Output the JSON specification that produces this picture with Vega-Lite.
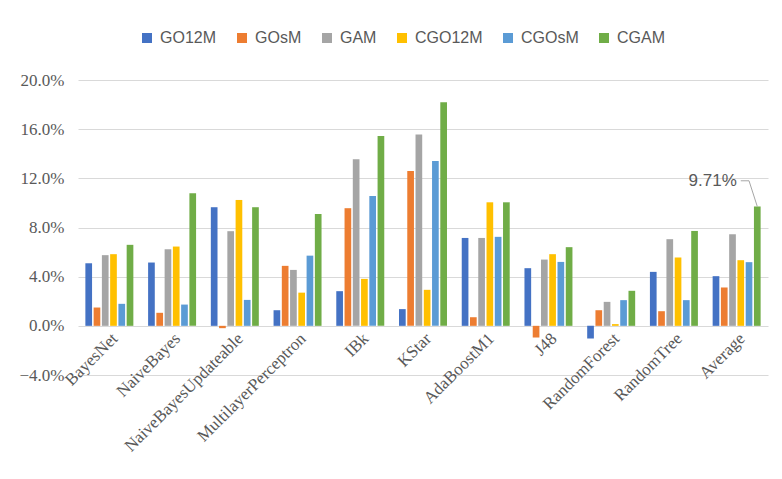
{
  "$schema": "https://vega.github.io/schema/vega-lite/v6.json",
  "width": 690,
  "height": 295,
  "autosize": {"type": "none"},
  "padding": {"left": 78, "top": 80, "right": 14, "bottom": 104},
  "background": "white",
  "config": {"view": {"stroke": null}, "font": "Liberation Serif"},
  "layer": [
    {
      "data": {"values": [
        {"cat": "BayesNet", "series": "GO12M", "v": 0.0509},
        {"cat": "BayesNet", "series": "GOsM", "v": 0.0149},
        {"cat": "BayesNet", "series": "GAM", "v": 0.0575},
        {"cat": "BayesNet", "series": "CGO12M", "v": 0.0583},
        {"cat": "BayesNet", "series": "CGOsM", "v": 0.0179},
        {"cat": "BayesNet", "series": "CGAM", "v": 0.0659},
        {"cat": "NaiveBayes", "series": "GO12M", "v": 0.0515},
        {"cat": "NaiveBayes", "series": "GOsM", "v": 0.0106},
        {"cat": "NaiveBayes", "series": "GAM", "v": 0.0623},
        {"cat": "NaiveBayes", "series": "CGO12M", "v": 0.0645},
        {"cat": "NaiveBayes", "series": "CGOsM", "v": 0.0173},
        {"cat": "NaiveBayes", "series": "CGAM", "v": 0.1079},
        {"cat": "NaiveBayesUpdateable", "series": "GO12M", "v": 0.0965},
        {"cat": "NaiveBayesUpdateable", "series": "GOsM", "v": -0.0019},
        {"cat": "NaiveBayesUpdateable", "series": "GAM", "v": 0.0770},
        {"cat": "NaiveBayesUpdateable", "series": "CGO12M", "v": 0.1024},
        {"cat": "NaiveBayesUpdateable", "series": "CGOsM", "v": 0.0211},
        {"cat": "NaiveBayesUpdateable", "series": "CGAM", "v": 0.0965},
        {"cat": "MultilayerPerceptron", "series": "GO12M", "v": 0.0127},
        {"cat": "MultilayerPerceptron", "series": "GOsM", "v": 0.0488},
        {"cat": "MultilayerPerceptron", "series": "GAM", "v": 0.0455},
        {"cat": "MultilayerPerceptron", "series": "CGO12M", "v": 0.0270},
        {"cat": "MultilayerPerceptron", "series": "CGOsM", "v": 0.0571},
        {"cat": "MultilayerPerceptron", "series": "CGAM", "v": 0.0910},
        {"cat": "IBk", "series": "GO12M", "v": 0.0282},
        {"cat": "IBk", "series": "GOsM", "v": 0.0957},
        {"cat": "IBk", "series": "GAM", "v": 0.1355},
        {"cat": "IBk", "series": "CGO12M", "v": 0.0382},
        {"cat": "IBk", "series": "CGOsM", "v": 0.1057},
        {"cat": "IBk", "series": "CGAM", "v": 0.1545},
        {"cat": "KStar", "series": "GO12M", "v": 0.0136},
        {"cat": "KStar", "series": "GOsM", "v": 0.1260},
        {"cat": "KStar", "series": "GAM", "v": 0.1556},
        {"cat": "KStar", "series": "CGO12M", "v": 0.0293},
        {"cat": "KStar", "series": "CGOsM", "v": 0.1341},
        {"cat": "KStar", "series": "CGAM", "v": 0.1820},
        {"cat": "AdaBoostM1", "series": "GO12M", "v": 0.0715},
        {"cat": "AdaBoostM1", "series": "GOsM", "v": 0.0070},
        {"cat": "AdaBoostM1", "series": "GAM", "v": 0.0715},
        {"cat": "AdaBoostM1", "series": "CGO12M", "v": 0.1005},
        {"cat": "AdaBoostM1", "series": "CGOsM", "v": 0.0724},
        {"cat": "AdaBoostM1", "series": "CGAM", "v": 0.1005},
        {"cat": "J48", "series": "GO12M", "v": 0.0469},
        {"cat": "J48", "series": "GOsM", "v": -0.0095},
        {"cat": "J48", "series": "GAM", "v": 0.0539},
        {"cat": "J48", "series": "CGO12M", "v": 0.0583},
        {"cat": "J48", "series": "CGOsM", "v": 0.0520},
        {"cat": "J48", "series": "CGAM", "v": 0.0640},
        {"cat": "RandomForest", "series": "GO12M", "v": -0.0103},
        {"cat": "RandomForest", "series": "GOsM", "v": 0.0127},
        {"cat": "RandomForest", "series": "GAM", "v": 0.0195},
        {"cat": "RandomForest", "series": "CGO12M", "v": 0.0014},
        {"cat": "RandomForest", "series": "CGOsM", "v": 0.0209},
        {"cat": "RandomForest", "series": "CGAM", "v": 0.0285},
        {"cat": "RandomTree", "series": "GO12M", "v": 0.0439},
        {"cat": "RandomTree", "series": "GOsM", "v": 0.0119},
        {"cat": "RandomTree", "series": "GAM", "v": 0.0705},
        {"cat": "RandomTree", "series": "CGO12M", "v": 0.0556},
        {"cat": "RandomTree", "series": "CGOsM", "v": 0.0209},
        {"cat": "RandomTree", "series": "CGAM", "v": 0.0772},
        {"cat": "Average", "series": "GO12M", "v": 0.0404},
        {"cat": "Average", "series": "GOsM", "v": 0.0312},
        {"cat": "Average", "series": "GAM", "v": 0.0745},
        {"cat": "Average", "series": "CGO12M", "v": 0.0534},
        {"cat": "Average", "series": "CGOsM", "v": 0.0518},
        {"cat": "Average", "series": "CGAM", "v": 0.0971}
      ]},
      "mark": {"type": "bar"},
      "encoding": {
        "x": {
          "field": "cat", "type": "nominal", "sort": null,
          "scale": {"paddingInner": 0.21, "paddingOuter": 0.105},
          "axis": {
            "title": null, "offset": -49, "domain": false, "ticks": false,
            "labelAngle": -45, "labelFont": "Liberation Serif", "labelFontSize": 17,
            "labelColor": "#595959", "labelPadding": 4, "labelOverlap": false, "labelLimit": 300
          }
        },
        "xOffset": {
          "field": "series", "type": "nominal",
          "scale": {"domain": ["GO12M", "GOsM", "GAM", "CGO12M", "CGOsM", "CGAM"], "paddingInner": 0.19, "paddingOuter": 0.095}
        },
        "y": {
          "field": "v", "type": "quantitative",
          "scale": {"domain": [-0.04, 0.2], "nice": false},
          "axis": {
            "title": null, "values": [-0.04, 0, 0.04, 0.08, 0.12, 0.16, 0.2], "format": ".1%",
            "grid": true, "gridColor": "#D9D9D9", "gridWidth": 1, "domain": false, "ticks": false,
            "labelFont": "Liberation Serif", "labelFontSize": 17, "labelColor": "#595959", "labelPadding": 14
          }
        },
        "color": {
          "field": "series", "type": "nominal",
          "scale": {
            "domain": ["GO12M", "GOsM", "GAM", "CGO12M", "CGOsM", "CGAM"],
            "range": ["#4472C4", "#ED7D31", "#A5A5A5", "#FFC000", "#5B9BD5", "#70AD47"]
          },
          "legend": {
            "title": null, "orient": "none", "legendX": 61, "legendY": -50, "direction": "horizontal",
            "symbolType": "square", "symbolSize": 100, "symbolStrokeWidth": 0,
            "labelFont": "Liberation Sans", "labelFontSize": 16, "labelColor": "#595959",
            "columnPadding": 17, "labelOffset": 5
          }
        }
      }
    },
    {
      "data": {"values": [
        {"cat": "Average", "series": "CGO12M", "v": 0.118, "o": 1},
        {"cat": "Average", "series": "CGOsM", "v": 0.118, "o": 2},
        {"cat": "Average", "series": "CGAM", "v": 0.0971, "o": 3}
      ]},
      "mark": {"type": "line", "color": "#A6A6A6", "strokeWidth": 1},
      "encoding": {
        "x": {"field": "cat", "type": "nominal", "sort": null},
        "xOffset": {"field": "series", "type": "nominal"},
        "y": {"field": "v", "type": "quantitative"},
        "order": {"field": "o", "type": "quantitative"}
      }
    },
    {
      "data": {"values": [
        {"cat": "Average", "series": "CGO12M", "v": 0.118, "label": "9.71%"}
      ]},
      "mark": {"type": "text", "align": "right", "baseline": "middle", "dx": -4, "font": "Liberation Sans", "fontSize": 17, "color": "#595959"},
      "encoding": {
        "x": {"field": "cat", "type": "nominal", "sort": null},
        "xOffset": {"field": "series", "type": "nominal"},
        "y": {"field": "v", "type": "quantitative"},
        "text": {"field": "label"}
      }
    }
  ]
}
